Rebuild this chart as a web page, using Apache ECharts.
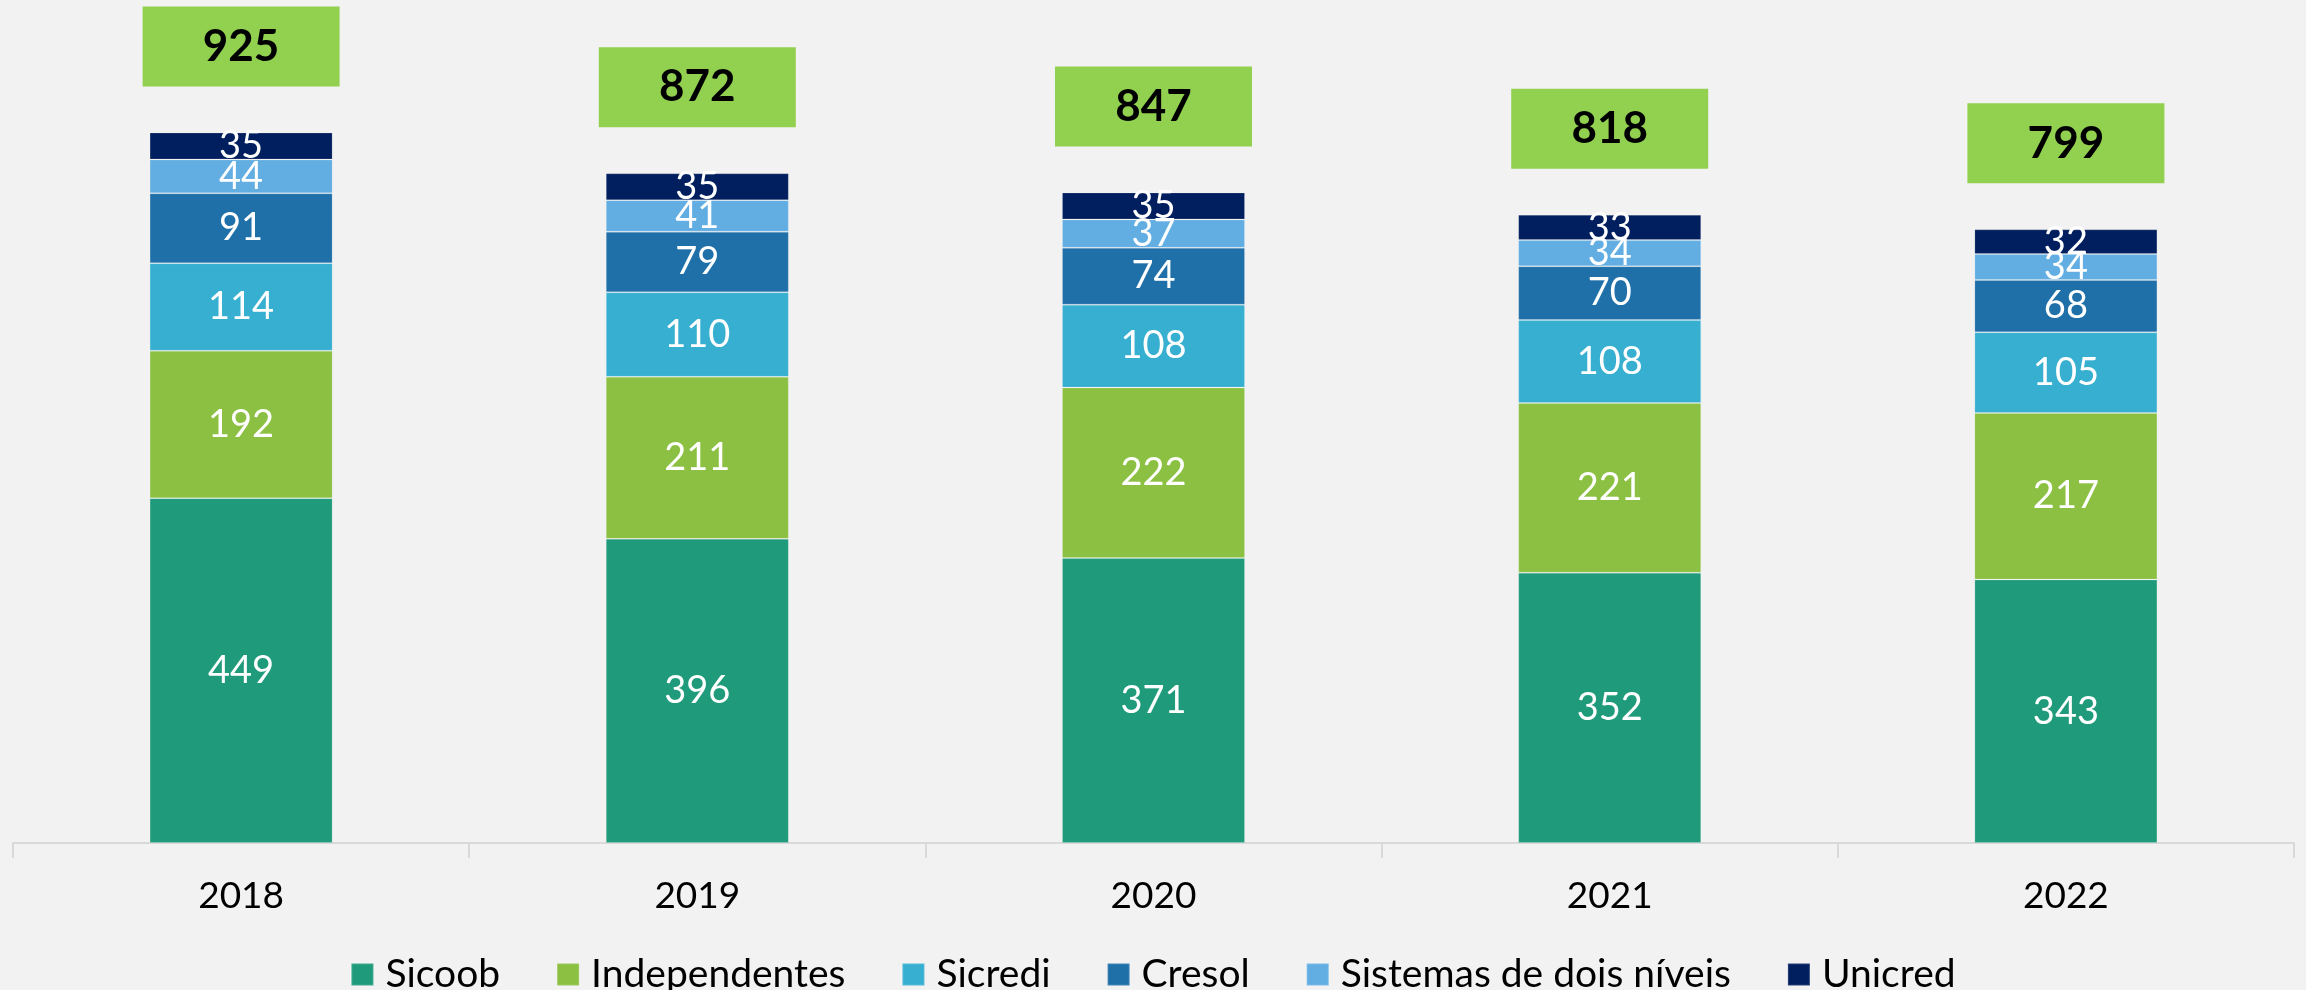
<!DOCTYPE html>
<html><head><meta charset="utf-8">
<script src="https://cdn.jsdelivr.net/npm/echarts@6/dist/echarts.min.js"></script>
<style>html,body{margin:0;padding:0;background:#F2F2F2;}#c{width:2306px;height:990px;}</style>
</head><body><div id="c"></div>
<script>
const years = ['2018','2019','2020','2021','2022'];
const sicoob = [449,396,371,352,343];
const independentes = [192,211,222,221,217];
const sicredi = [114,110,108,108,105];
const cresol = [91,79,74,70,68];
const sistemas = [44,41,37,34,34];
const unicred = [35,35,35,33,32];
const totals = [925,872,847,818,799];

const FONT = 'Lato';
const seriesDefs = [
  ['Sicoob', sicoob, '#1F9B7B'],
  ['Independentes', independentes, '#8BC042'],
  ['Sicredi', sicredi, '#37AFD0'],
  ['Cresol', cresol, '#1F70A9'],
  ['Sistemas de dois níveis', sistemas, '#62AEE3'],
  ['Unicred', unicred, '#011F5E']
];
const series = seriesDefs.map(([name, data, color]) => ({
  name, type: 'bar', stack: 'total', data, barWidth: 183,
  itemStyle: { color, borderColor: 'rgba(255,255,255,0.15)', borderWidth: 1 },
  label: { show: true, position: 'inside', color: '#fff', fontFamily: FONT, fontSize: 38 },
  emphasis: { disabled: true }
}));
series.push({
  name: 'Total', type: 'scatter', data: totals, symbol: 'rect', symbolSize: [197, 80],
  symbolOffset: [0, -86], z: 10,
  itemStyle: { color: '#92D050', opacity: 1 },
  label: { show: true, position: 'inside', color: '#000', fontFamily: FONT, fontWeight: 'bold', fontSize: 44 },
  emphasis: { disabled: true }
});

const chart = echarts.init(document.getElementById('c'));
chart.setOption({
  backgroundColor: '#F2F2F2',
  animation: false,
  grid: { left: 13, right: 12, top: 75, bottom: 147 },
  xAxis: {
    type: 'category', data: years, boundaryGap: true,
    axisLine: { lineStyle: { color: '#D9D9D9', width: 2 } },
    axisTick: { show: true, length: 15, lineStyle: { color: '#D9D9D9', width: 2 } },
    axisLabel: { color: '#000', fontFamily: FONT, fontSize: 37, margin: 35 }
  },
  yAxis: { type: 'value', min: 0, max: 1000, show: false, splitLine: { show: false } },
  legend: {
    data: seriesDefs.map(d => d[0]), top: 950, left: 'center',
    itemWidth: 22, itemHeight: 22, itemGap: 56, icon: 'rect',
    textStyle: { color: '#000', fontFamily: FONT, fontSize: 39, padding: [0, 0, 0, 7] }
  },
  series
});
</script></body></html>
